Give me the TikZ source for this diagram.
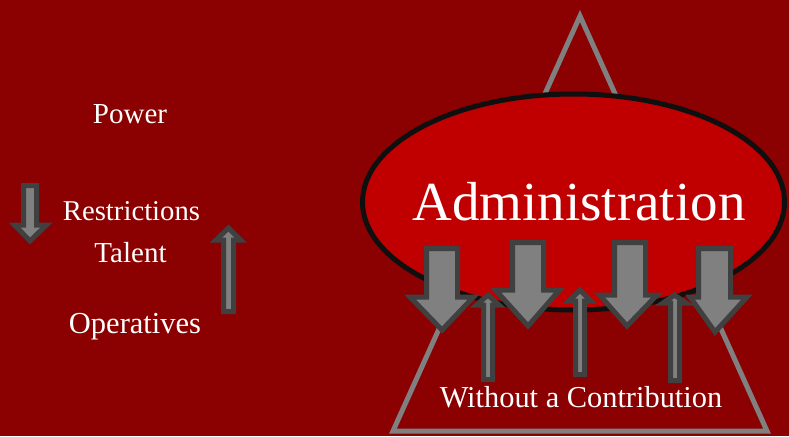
\documentclass[tikz,border=0pt]{standalone}
\usepackage{fontspec}
\setmainfont{Liberation Serif}
\begin{document}
\begin{tikzpicture}[x=1pt,y=-1pt,
  lbl/.style={text=white,anchor=base,inner sep=0pt,font=\fontsize{29}{32}\selectfont},
  arr/.style={fill=arrfill,draw=arrline,line width=5pt,line join=miter},
  tri/.style={draw=trigray,line width=5pt,line join=miter},
  oval/.style={fill=ovalred,draw=ovalline,line width=5pt}]
\definecolor{bgred}{RGB}{139,0,0}
\definecolor{ovalred}{RGB}{192,0,0}
\definecolor{ovalline}{RGB}{15,15,15}
\definecolor{trigray}{RGB}{128,128,128}
\definecolor{arrfill}{RGB}{128,128,128}
\definecolor{arrline}{RGB}{64,64,64}
\fill[bgred] (0,0) rectangle (789,436);
\useasboundingbox (0,0) rectangle (789,436);
% triangle
\draw[tri] (580,16) -- (767,431) -- (393,431) -- cycle;
% ellipse
\draw[oval] (573.5,202) ellipse [x radius=211, y radius=108];
\node[lbl,font=\fontsize{55}{60}\selectfont] (adm) at (579,220) {Administration};
% left texts
\node[lbl] (power) at (130,123) {Power};
\node[lbl,font=\fontsize{28.7}{32}\selectfont] (restr) at (131.5,220) {Restrictions};
\node[lbl] (talent) at (130.5,262) {Talent};
\node[lbl,font=\fontsize{30.5}{32}\selectfont] (oper) at (135,333) {Operatives};
\node[lbl,font=\fontsize{30.4}{32}\selectfont] (wc) at (581,407) {Without a Contribution};
% left arrows
\draw[arr] (23.5,185.5) -- (36.5,185.5) -- (36.5,225) -- (46.5,225) -- (30,241) -- (14.5,225) -- (23.5,225) -- cycle;
\draw[arr] (223.5,311.5) -- (233.5,311.5) -- (233.5,240) -- (240.5,240) -- (228.5,228) -- (216,240) -- (223.5,240) -- cycle;
% big down arrows
\draw[arr] (426.5,248.5) -- (457.5,248.5) -- (457.5,297) -- (473.5,297) -- (442,330) -- (410,297) -- (426.5,297) -- cycle;
\draw[arr] (512.5,242.5) -- (543.5,242.5) -- (543.5,290) -- (559.5,290) -- (528,326) -- (495.5,290) -- (512.5,290) -- cycle;
\draw[arr] (614.5,242.5) -- (645.5,242.5) -- (645.5,295) -- (657,295) -- (627,326) -- (599.5,295) -- (614.5,295) -- cycle;
\draw[arr] (698.5,248.5) -- (730.5,248.5) -- (730.5,297) -- (747,297) -- (715,332) -- (690,297) -- (698.5,297) -- cycle;
% small up arrows
\draw[arr] (483.5,379.5) -- (492.5,379.5) -- (492.5,305) -- (499,305) -- (488,295) -- (476.5,305) -- (483.5,305) -- cycle;
\draw[arr] (575.5,374.5) -- (584.5,374.5) -- (584.5,301) -- (591,301) -- (580,290) -- (569,301) -- (575.5,301) -- cycle;
\draw[arr] (670.5,380.5) -- (679.5,380.5) -- (679.5,303) -- (686,303) -- (674.5,295) -- (663,303) -- (670.5,303) -- cycle;
\end{tikzpicture}
\end{document}
